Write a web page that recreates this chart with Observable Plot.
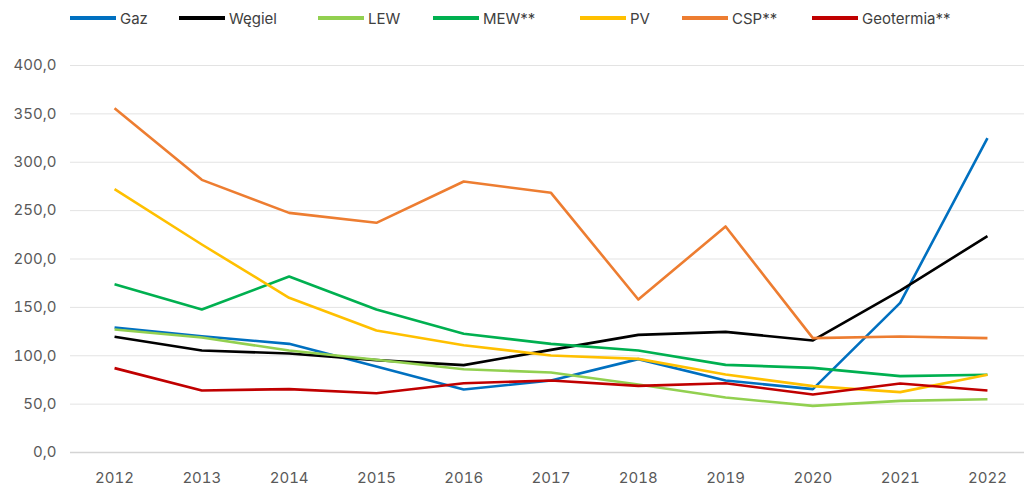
<!DOCTYPE html>
<html>
<head>
<meta charset="utf-8">
<script src="https://cdn.jsdelivr.net/npm/d3@7"></script>
<script src="https://cdn.jsdelivr.net/npm/@observablehq/plot@0.6"></script>
<style>
  html, body { margin: 0; padding: 0; background: #fff; }
  body { width: 1024px; height: 487px; overflow: hidden; font-family: Inter, "Noto Sans", sans-serif; }
  #legend { position: relative; height: 36px; width: 1024px; }
  .item { position: absolute; top: 0; height: 36px; display: flex; align-items: center; font-size: 15px; color: #404040; }
  .sw { width: 46px; height: 4px; margin-right: 4px; }
  svg { display: block; }
</style>
</head>
<body>
<div id="legend"></div>
<div id="chart"></div>
<script>
const years = [2012, 2013, 2014, 2015, 2016, 2017, 2018, 2019, 2020, 2021, 2022];
const seriesNames = ["Gaz", "Węgiel", "LEW", "MEW**", "PV", "CSP**", "Geotermia**"];
const seriesColors = ["#0070C0", "#000000", "#92D050", "#00B050", "#FFC000", "#ED7D31", "#C00000"];
const gaz       = [129.2, 120.2, 112.3, 89.0, 65.1, 74.4, 96.5, 74.4, 65.5, 154.7, 324.9];
const wegiel    = [119.6, 105.4, 102.3, 95.5, 90.3, 106.1, 121.6, 124.7, 115.8, 167.4, 223.6];
const lew       = [127.1, 118.9, 105.4, 95.8, 86.1, 82.7, 70.3, 56.8, 48.2, 53.4, 55.1];
const mew       = [174.0, 147.8, 181.9, 147.8, 122.7, 112.3, 105.4, 90.6, 87.5, 78.9, 80.3];
const pv        = [272.2, 215.0, 159.9, 126.1, 110.9, 100.3, 96.8, 80.6, 68.6, 62.4, 80.3];
const csp       = [355.9, 281.8, 247.7, 237.4, 280.1, 268.4, 158.1, 233.6, 118.2, 119.9, 118.2];
const geotermia = [87.2, 64.1, 65.5, 61.3, 71.6, 74.4, 68.9, 71.6, 59.9, 71.3, 64.1];
const yTicks = [0, 50, 100, 150, 200, 250, 300, 350, 400];
const legendLeft = [70, 179, 318, 433, 580, 682, 812];

const allValues = [gaz, wegiel, lew, mew, pv, csp, geotermia];
const data = [];
seriesNames.forEach((name, i) => {
  years.forEach((yr, j) => data.push({series: name, year: yr, value: allValues[i][j]}));
});

// legend
const legend = document.getElementById("legend");
seriesNames.forEach((name, i) => {
  const it = document.createElement("div");
  it.className = "item";
  it.style.left = legendLeft[i] + "px";
  const sw = document.createElement("div");
  sw.className = "sw";
  sw.style.background = seriesColors[i];
  const tx = document.createElement("span");
  tx.textContent = name;
  it.appendChild(sw);
  it.appendChild(tx);
  legend.appendChild(it);
});

const fmt = d => d.toFixed(1).replace(".", ",");

const chart = Plot.plot({
  width: 1024,
  height: 451,
  marginLeft: 70,
  marginRight: 0,
  marginTop: 29,
  marginBottom: 35,
  style: { fontFamily: "Inter, 'Noto Sans', sans-serif", fontSize: "15px", color: "#595959", background: "#fff" },
  x: { type: "linear", domain: [2011.5, 2022.5], range: [70.4, 1030.6] },
  y: { domain: [0, 400] },
  color: { domain: seriesNames, range: seriesColors },
  marks: [
    Plot.ruleY(yTicks.filter(d => d > 0), { stroke: "#e3e3e3", strokeWidth: 1 }),
    Plot.ruleY([0], { stroke: "#d4d4d4", strokeWidth: 1.5 }),
    Plot.axisY({ ticks: yTicks, tickFormat: fmt, tickSize: 0, tickPadding: 14, label: null, fill: "#595959" }),
    Plot.axisX({ ticks: years, tickFormat: d => String(d), tickSize: 0, tickPadding: 20, label: null, fill: "#595959" }),
    Plot.lineY(data, { x: "year", y: "value", z: "series", stroke: "series", strokeWidth: 2.6, strokeLinejoin: "round", strokeLinecap: "butt" })
  ]
});
document.getElementById("chart").appendChild(chart);
</script>
</body>
</html>
